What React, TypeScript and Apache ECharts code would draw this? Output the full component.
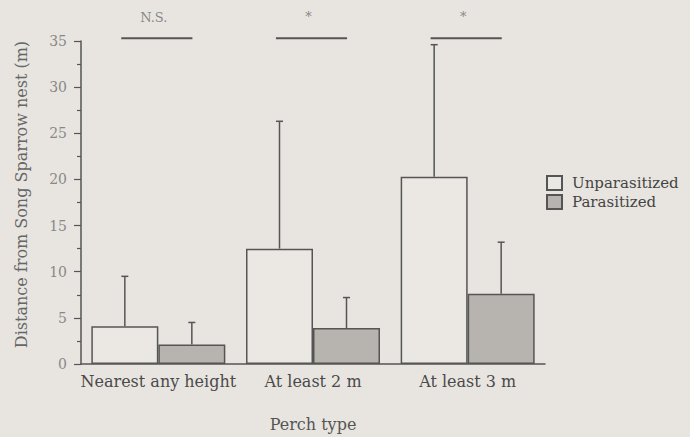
import React, { useEffect, useRef } from "react";
import * as echarts from "echarts";

const categories = ["Nearest any height", "At least 2 m", "At least 3 m"];
const unparasitized = [4.1, 12.5, 20.3];
const unparasitizedUpper = [9.5, 26.3, 34.6];
const parasitized = [2.1, 3.9, 7.6];
const parasitizedUpper = [4.5, 7.2, 13.2];
const sigLabels = ["N.S.", "*", "*"];
const sigLineLevel = [35.3, 35.3, 35.3];
const sigTextLevel = [37.6, 37.7, 37.7];
const yTicks = [0, 35, 5];

const FONT = "'DejaVu Serif', 'Liberation Serif', serif";
const INK = "#555";
const BAR_W = 67;

function errorSeries(name: string, means: number[], uppers: number[], offset: number) {
  return {
    name: name + " SD",
    type: "custom",
    silent: true,
    data: categories.map((_, i) => [i, means[i], uppers[i]]),
    encode: { x: 0, y: [1, 2] },
    z: 5,
    renderItem: (_p: any, api: any) => {
      const i = api.value(0);
      const base = api.coord([i, api.value(1)]);
      const top = api.coord([i, api.value(2)]);
      const x = base[0] + offset;
      return {
        type: "group",
        children: [
          { type: "line", shape: { x1: x, y1: base[1], x2: x, y2: top[1] }, style: { stroke: INK, lineWidth: 1.5 } },
          { type: "line", shape: { x1: x - 3.5, y1: top[1], x2: x + 3.5, y2: top[1] }, style: { stroke: INK, lineWidth: 1.5 } },
        ],
      };
    },
  };
}

export default function App() {
  const ref = useRef<HTMLDivElement>(null);
  useEffect(() => {
    if (!ref.current) return;
    const chart = echarts.init(ref.current, null, { renderer: "svg" });
    chart.setOption({
      animation: false,
      backgroundColor: "#e8e5e0",
      textStyle: { fontFamily: FONT },
      grid: { left: 81, right: 145, top: 41, bottom: 72 },
      legend: {
        orient: "vertical",
        left: 546,
        top: 175,
        padding: 0,
        itemWidth: 15,
        itemHeight: 14,
        itemGap: 3,
        icon: "rect",
        selectedMode: false,
        textStyle: { fontFamily: FONT, fontSize: 15, lineHeight: 15, color: "#444", padding: [0, 0, 0, 5] },
        data: ["Unparasitized", "Parasitized"],
      },
      xAxis: {
        type: "category",
        data: categories,
        axisLine: { lineStyle: { color: INK, width: 1.5 } },
        axisTick: { show: false },
        axisLabel: { color: "#4a4a4a", fontSize: 16, fontFamily: FONT, margin: 9, interval: 0 },
        name: "Perch type",
        nameLocation: "middle",
        nameGap: 52,
        nameTextStyle: { color: "#555", fontSize: 16, fontFamily: FONT },
      },
      yAxis: {
        type: "value",
        min: yTicks[0],
        max: yTicks[1],
        interval: yTicks[2],
        splitLine: { show: false },
        axisLine: { show: true, lineStyle: { color: INK, width: 1.5 } },
        axisTick: { show: true, length: 7, lineStyle: { color: INK, width: 1.2 } },
        minorTick: { show: true, splitNumber: 2, length: 4, lineStyle: { color: INK, width: 1.2 } },
        axisLabel: { color: "#888", fontSize: 14, fontFamily: FONT, margin: 14 },
        name: "Distance from Song Sparrow nest (m)",
        nameLocation: "middle",
        nameGap: 52,
        nameTextStyle: { color: "#666", fontSize: 16, fontFamily: FONT, padding: [0, 0, 0, 16] },
      },
      series: [
        {
          name: "Unparasitized",
          type: "bar",
          data: unparasitized,
          barWidth: BAR_W,
          barGap: "0%",
          itemStyle: { color: "#ebe8e3", borderColor: INK, borderWidth: 1.5 },
        },
        {
          name: "Parasitized",
          type: "bar",
          data: parasitized,
          barWidth: BAR_W,
          barGap: "0%",
          itemStyle: { color: "#b7b4af", borderColor: INK, borderWidth: 1.5 },
        },
        errorSeries("Unparasitized", unparasitized, unparasitizedUpper, -BAR_W / 2),
        errorSeries("Parasitized", parasitized, parasitizedUpper, BAR_W / 2),
        {
          name: "significance",
          type: "custom",
          silent: true,
          clip: false,
          data: categories.map((_, i) => [i, sigLineLevel[i], sigTextLevel[i]]),
          encode: { x: 0, y: [1, 2] },
          renderItem: (p: any, api: any) => {
            const i = api.value(0);
            const line = api.coord([i, api.value(1)]);
            const txt = api.coord([i, api.value(2)]);
            const half = api.size([1, 0])[0] * 0.23;
            const cx = line[0] - 1.5;
            return {
              type: "group",
              children: [
                { type: "line", shape: { x1: cx - half, y1: line[1], x2: cx + half, y2: line[1] }, style: { stroke: INK, lineWidth: 2 } },
                {
                  type: "text",
                  style: {
                    text: sigLabels[p.dataIndex],
                    x: cx - 3,
                    y: txt[1],
                    align: "center",
                    verticalAlign: "middle",
                    fontSize: 13,
                    fontFamily: FONT,
                    fill: "#888",
                  },
                },
              ],
            };
          },
        },
      ],
    });
    return () => chart.dispose();
  }, []);
  return <div ref={ref} style={{ position: "absolute", left: 0, top: 0, width: 690, height: 437 }} />;
}
